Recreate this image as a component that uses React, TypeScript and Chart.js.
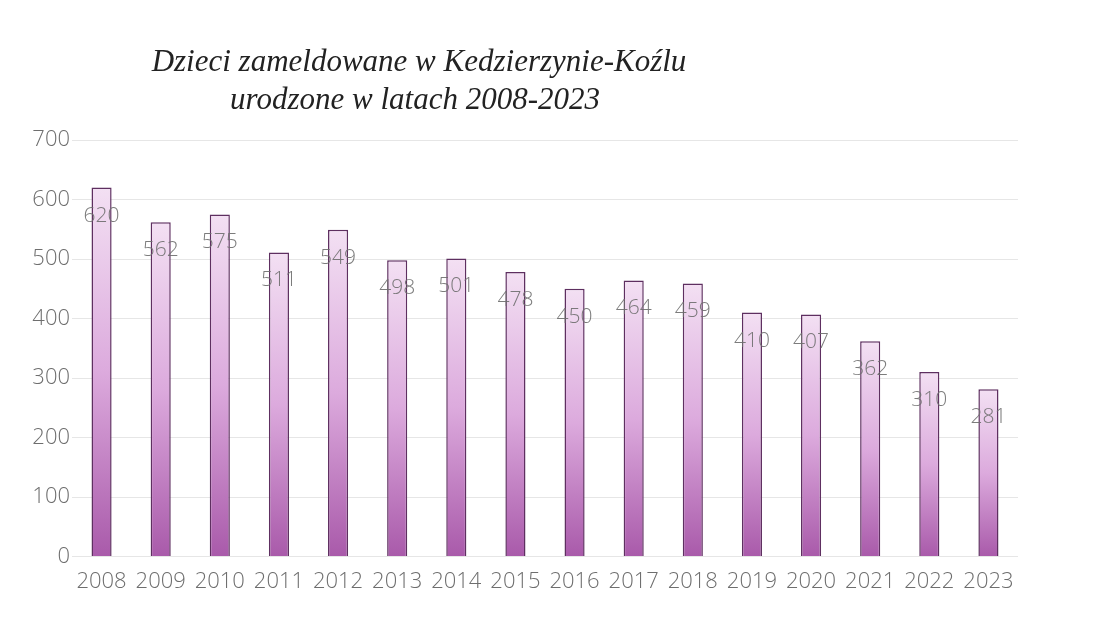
import React, { useEffect, useRef } from "react";
import { Chart, registerables } from "chart.js";

Chart.register(...registerables);

const years = ["2008","2009","2010","2011","2012","2013","2014","2015","2016","2017","2018","2019","2020","2021","2022","2023"];
const children = [620, 562, 575, 511, 549, 498, 501, 478, 450, 464, 459, 410, 407, 362, 310, 281];
const titleLines = ["Dzieci zameldowane w Kedzierzynie-Koźlu", "urodzone w latach 2008-2023"];

const FONT = "'Open Sans', 'Noto Sans', sans-serif";

const titlePlugin = {
  id: "customTitle",
  afterDraw(chart: any) {
    const ctx = chart.ctx;
    ctx.save();
    ctx.fillStyle = "#222";
    ctx.font = "italic 31px 'Liberation Serif', 'DejaVu Serif', serif";
    ctx.textAlign = "center";
    ctx.textBaseline = "middle";
    ctx.fillText(titleLines[0], 419, 63);
    ctx.fillText(titleLines[1], 415, 101);
    ctx.restore();
  },
};

const labelPlugin = {
  id: "barLabels",
  afterDatasetsDraw(chart: any) {
    const ctx = chart.ctx;
    const meta = chart.getDatasetMeta(0);
    ctx.save();
    ctx.font = `300 21px ${FONT}`;
    ctx.fillStyle = "rgba(110,110,110,0.9)";
    ctx.textAlign = "center";
    ctx.textBaseline = "middle";
    meta.data.forEach((el: any, i: number) => {
      ctx.fillText(String(children[i]), el.x, el.y + 28);
    });
    ctx.restore();
  },
};

export default function App() {
  const ref = useRef<HTMLCanvasElement | null>(null);
  useEffect(() => {
    document.body.style.margin = "0";
    document.body.style.background = "#fff";
    const canvas = ref.current!;
    const chart = new Chart(canvas, {
      type: "bar",
      data: {
        labels: years,
        datasets: [
          {
            data: children,
            backgroundColor: (c: any) => {
              const ch = c.chart;
              const ys = ch.scales?.y;
              if (!ch.chartArea || !ys || c.raw == null) return "#c88ac8";
              const top = ys.getPixelForValue(c.raw);
              const base = ys.getPixelForValue(0);
              const g = ch.ctx.createLinearGradient(0, top, 0, base);
              g.addColorStop(0, "#f3e0f3");
              g.addColorStop(0.5, "#dcaadd");
              g.addColorStop(1, "#a95aaa");
              return g;
            },
            borderColor: "#5e2f60",
            borderWidth: 1.5,
            barPercentage: 0.34,
            categoryPercentage: 1,
          },
        ],
      },
      options: {
        responsive: false,
        animation: false,
        layout: { padding: { left: 0, right: 92, top: 140, bottom: 22 } },
        plugins: {
          legend: { display: false },
          title: { display: false },
          tooltip: { enabled: false },
        },
        scales: {
          x: {
            grid: { display: false },
            border: { display: false },
            ticks: {
              color: "#6e6e6e",
              font: { family: FONT, size: 22, weight: "300" as any },
              padding: 4,
              maxRotation: 0,
            },
          },
          y: {
            min: 0,
            max: 700,
            afterFit: (s: any) => { s.width = 72; },
            grid: { color: "#e6e6e6", lineWidth: 1, drawTicks: false },
            border: { display: false },
            ticks: {
              stepSize: 100,
              color: "#6e6e6e",
              font: { family: FONT, size: 22, weight: "300" as any },
              padding: 2,
            },
          },
        },
      },
      plugins: [titlePlugin, labelPlugin],
    });
    return () => chart.destroy();
  }, []);
  return <canvas ref={ref} width={1110} height={621} style={{ display: "block" }} />;
}
